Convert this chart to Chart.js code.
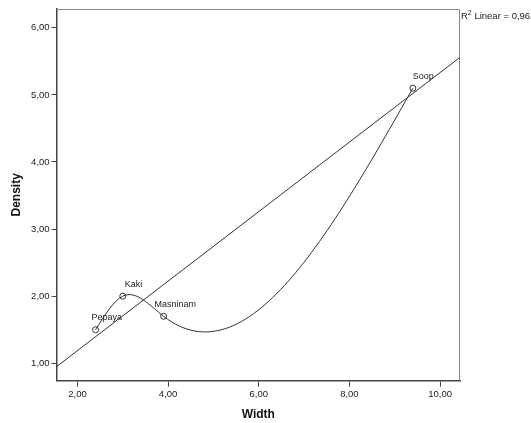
<!DOCTYPE html>
<html>
<head>
<meta charset="utf-8">
<script src="https://cdn.jsdelivr.net/npm/chart.js@4.4.1/dist/chart.umd.min.js"></script>
<style>
  html, body { margin: 0; padding: 0; background: #fff; }
  canvas { display: block; }
</style>
</head>
<body>
<canvas id="chart" width="531" height="423"></canvas>
<script>
const names = ["Pepaya", "Kaki", "Masninam", "Soop"];
const widths = [2.4, 3.0, 3.9, 9.4];
const densities = [1.5, 2.0, 1.7, 5.1];
const fitX = [1.54, 10.44];
const fitY = [0.95, 5.56];
const xTicks = [2, 4, 6, 8, 10];
const yTicks = [1, 2, 3, 4, 5, 6];
const r2Value = "0,961";

const FONT = "'Liberation Sans', Arial, sans-serif";
const INK = "#333";
const fmt = (v) => v.toFixed(2).replace(".", ",");

// label nudges (px) so names sit like the original
const labelDx = { Pepaya: -4, Kaki: 2, Masninam: -9, Soop: 0 };

function naturalSpline(xs, ys) {
  const n = xs.length;
  const h = [];
  for (let i = 0; i < n - 1; i++) h.push(xs[i + 1] - xs[i]);
  const M = new Array(n).fill(0);
  const a = [], b = [], c = [], d = [];
  for (let i = 1; i < n - 1; i++) {
    a.push(h[i - 1]);
    b.push(2 * (h[i - 1] + h[i]));
    c.push(h[i]);
    d.push(6 * ((ys[i + 1] - ys[i]) / h[i] - (ys[i] - ys[i - 1]) / h[i - 1]));
  }
  const m = b.length;
  for (let i = 1; i < m; i++) {
    const w = a[i] / b[i - 1];
    b[i] -= w * c[i - 1];
    d[i] -= w * d[i - 1];
  }
  for (let i = m - 1; i >= 0; i--) {
    M[i + 1] = (d[i] - (i < m - 1 ? c[i] * M[i + 2] : 0)) / b[i];
  }
  return { h, M };
}

const splinePlugin = {
  id: "spline",
  beforeDatasetsDraw(chart) {
    const { ctx, chartArea, scales: { x, y } } = chart;
    // grey frame on top and right
    ctx.save();
    ctx.strokeStyle = "#888";
    ctx.lineWidth = 1;
    ctx.beginPath();
    ctx.moveTo(chartArea.left, chartArea.top + 0.5);
    ctx.lineTo(chartArea.right - 0.5, chartArea.top + 0.5);
    ctx.lineTo(chartArea.right - 0.5, chartArea.bottom);
    ctx.stroke();
    ctx.restore();

    // interpolation line through the points
    const order = widths.map((_, i) => i).sort((p, q) => widths[p] - widths[q]);
    const xs = order.map((i) => widths[i]);
    const ys = order.map((i) => densities[i]);
    const { h, M } = naturalSpline(xs, ys);
    ctx.save();
    ctx.strokeStyle = INK;
    ctx.lineWidth = 1;
    ctx.beginPath();
    ctx.moveTo(x.getPixelForValue(xs[0]), y.getPixelForValue(ys[0]));
    for (let i = 0; i < xs.length - 1; i++) {
      const slope = (ys[i + 1] - ys[i]) / h[i];
      const s0 = slope - h[i] * (2 * M[i] + M[i + 1]) / 6;
      const s1 = slope + h[i] * (M[i] + 2 * M[i + 1]) / 6;
      ctx.bezierCurveTo(
        x.getPixelForValue(xs[i] + h[i] / 3), y.getPixelForValue(ys[i] + s0 * h[i] / 3),
        x.getPixelForValue(xs[i + 1] - h[i] / 3), y.getPixelForValue(ys[i + 1] - s1 * h[i] / 3),
        x.getPixelForValue(xs[i + 1]), y.getPixelForValue(ys[i + 1])
      );
    }
    ctx.stroke();
    ctx.restore();
  },
  afterDraw(chart) {
    const { ctx, chartArea, scales: { x, y } } = chart;
    ctx.save();
    ctx.fillStyle = "#222";
    ctx.font = "9px " + FONT;
    ctx.textBaseline = "middle";
    ctx.textAlign = "left";
    names.forEach((n, i) => {
      ctx.fillText(n, x.getPixelForValue(widths[i]) + labelDx[n], y.getPixelForValue(densities[i]) - 12);
    });
    // R2 annotation
    let tx = chartArea.right + 1;
    const ty = chartArea.top + 7;
    ctx.font = "9.5px " + FONT;
    ctx.fillText("R", tx, ty);
    tx += ctx.measureText("R").width;
    ctx.font = "7px " + FONT;
    ctx.fillText("2", tx, ty - 3);
    tx += ctx.measureText("2").width;
    ctx.font = "9.5px " + FONT;
    ctx.fillText(" Linear = " + r2Value, tx, ty);
    ctx.restore();
  },
};

new Chart(document.getElementById("chart"), {
  type: "scatter",
  data: {
    datasets: [
      {
        type: "line",
        data: fitX.map((v, i) => ({ x: v, y: fitY[i] })),
        borderColor: INK,
        borderWidth: 1,
        pointRadius: 0,
        fill: false,
      },
      {
        data: widths.map((v, i) => ({ x: v, y: densities[i] })),
        pointStyle: "circle",
        pointRadius: 3,
        borderColor: INK,
        borderWidth: 1,
        backgroundColor: "rgba(255,255,255,0)",
      },
    ],
  },
  options: {
    responsive: false,
    animation: false,
    layout: { padding: { left: 0, top: 9, right: 71, bottom: 0 } },
    plugins: { legend: { display: false }, tooltip: { enabled: false } },
    scales: {
      x: {
        type: "linear",
        min: 1.54,
        max: 10.44,
        afterBuildTicks: (s) => { s.ticks = xTicks.map((v) => ({ value: v })); },
        afterFit: (s) => { s.height = 42.3; },
        border: { color: "#444", width: 1.5 },
        grid: { drawOnChartArea: false, tickLength: 6, color: "#444" },
        ticks: { color: "#222", font: { family: FONT, size: 9.5 }, padding: 2, callback: (v) => fmt(v), maxRotation: 0 },
        title: { display: true, text: "Width", color: "#111", font: { family: FONT, size: 12, weight: "bold" }, padding: { top: 6, bottom: 1 } },
      },
      y: {
        type: "linear",
        min: 0.74,
        max: 6.28,
        afterBuildTicks: (s) => { s.ticks = yTicks.map((v) => ({ value: v })); },
        afterFit: (s) => { s.width = 56.6; },
        border: { color: "#444", width: 1.5 },
        grid: { drawOnChartArea: false, tickLength: 5, color: "#444" },
        ticks: { color: "#222", font: { family: FONT, size: 9.5 }, padding: 2, callback: (v) => fmt(v) },
        title: { display: true, text: "Density", color: "#111", font: { family: FONT, size: 12, weight: "bold" }, padding: { top: 9, bottom: 0 } },
      },
    },
  },
  plugins: [splinePlugin],
});
</script>
</body>
</html>
